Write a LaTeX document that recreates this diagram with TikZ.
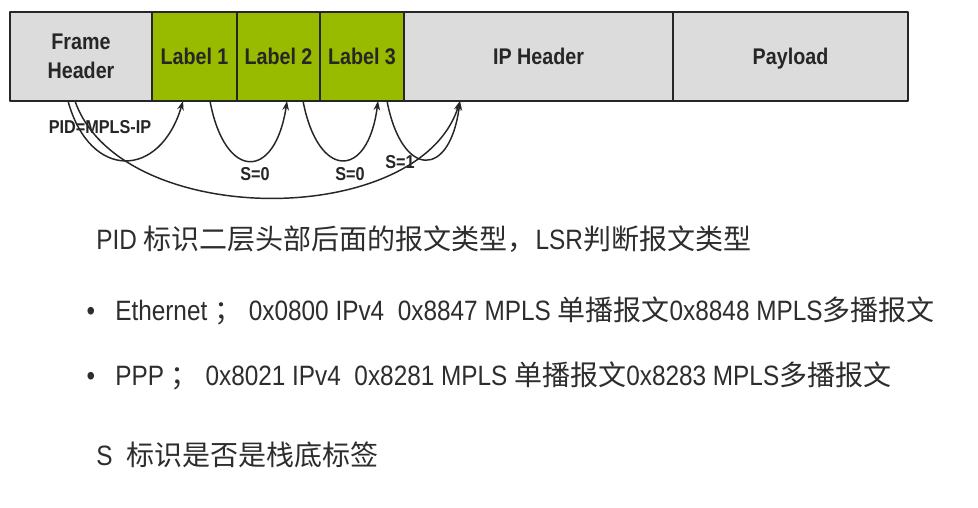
\documentclass[tikz,border=0pt]{standalone}
\usepackage{fontspec}
\usepackage{xcolor}
\usepackage{tikz}
\usetikzlibrary{positioning,arrows.meta}
\setmainfont[FakeStretch=0.87]{Liberation Sans}
\newfontfamily\cjk{Noto Sans CJK SC}
\newcommand{\zh}[1]{{\cjk #1}}
\definecolor{boxgray}{RGB}{220,220,220}
\definecolor{lblgreen}{RGB}{152,187,0}
\definecolor{txtgray}{RGB}{45,45,45}

\begin{document}
\begin{tikzpicture}[x=0.75pt, y=-0.75pt, line cap=round, line join=round,
    field/.style={draw=black!85, line width=1.1pt, fill=boxgray, minimum height=66.75pt,
      inner sep=0pt, outer sep=0pt, font=\fontsize{17}{22}\selectfont\bfseries, text=black!85,
      align=center},
    lbl/.style={field, fill=lblgreen},
    arr/.style={-{Stealth[length=7pt,width=5pt]}, line width=1.1pt, black!85},
    tag/.style={font=\fontsize{14}{16}\selectfont\bfseries, text=black!85, inner sep=0pt},
    body/.style={anchor=base west, inner sep=0pt, text=txtgray, font=\fontsize{21}{24}\selectfont}]
    \useasboundingbox[fill=white] (0,0) rectangle (978,507);

    % --- packet fields ---
    \node[field, minimum width=106.5pt] (fh) at (81,56.5) {Frame\\Header};
    \node[lbl, minimum width=63.75pt, right=0pt of fh] (lab1) {Label 1};
    \node[lbl, minimum width=62.25pt, right=0pt of lab1] (lab2) {Label 2};
    \node[lbl, minimum width=63pt, right=0pt of lab2] (lab3) {Label 3};
    \node[field, minimum width=201.75pt, right=0pt of lab3] (ip) {IP Header};
    \node[field, minimum width=176.25pt, text depth=0pt, right=0pt of ip] (pl) {Payload};

    % arcs under the fields
    \draw[arr] ([xshift=-9.75pt]fh.south) .. controls +(22,80) and +(-23,78) .. ([xshift=-8.6pt]lab1.south);
    \draw[arr] ([xshift=11.6pt]lab1.south) .. controls +(15,80) and +(-12,80) .. ([xshift=6.4pt]lab2.south);
    \draw[arr] ([xshift=18.4pt]lab2.south) .. controls +(15,79) and +(-10,79) .. ([xshift=12pt]lab3.south);
    \draw[arr] ([xshift=18.75pt]lab3.south) .. controls +(15,78) and +(-10,78) .. ([xshift=42pt]ip.south west);
    \draw[arr] ([xshift=-4.5pt]fh.south) .. controls +(45,129) and +(-40,129) .. ([xshift=42pt]ip.south west);

    \node[tag] (pid) at (100,127) {PID=MPLS-IP};
    \node[tag] (s1) at (255,174) {S=0};
    \node[tag] (s2) at (350,174) {S=0};
    \node[tag] (s3) at (400,162) {S=1};

    % --- notes ---
    \node[body] (t1) at (96,249) {PID \zh{标识二层头部后面的报文类型，}LSR\zh{判断报文类型}};
    \node[body, anchor=base] (b1) at (91,320) {•};
    \node[body] (t2) at (115,320) {Ethernet \zh{；} 0x0800 IPv4\ \ 0x8847 MPLS \zh{单播报文}0x8848 MPLS\zh{多播报文}};
    \node[body, anchor=base] (b2) at (91,385) {•};
    \node[body] (t3) at (115,385) {PPP \zh{；} 0x8021 IPv4\ \ 0x8281 MPLS \zh{单播报文}0x8283 MPLS\zh{多播报文}};
    \node[body] (t4) at (96,465) {S\ \ \zh{标识是否是栈底标签}};
  \end{tikzpicture}
\end{document}
